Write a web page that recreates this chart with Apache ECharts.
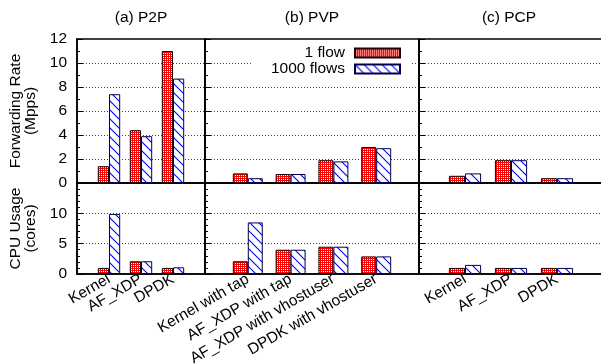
<!DOCTYPE html>
<html>
<head>
<meta charset="utf-8">
<script src="https://cdn.jsdelivr.net/npm/echarts@6/dist/echarts.min.js"></script>
<style>
    html, body { margin: 0; padding: 0; background: #fff; }
    #main { width: 601px; height: 364px; }
</style>
</head>
<body>
<div id="main"></div>
<script>
// categories
var p2pCats = ['Kernel', 'AF_XDP', 'DPDK'];
var pvpCats = ['Kernel with tap', 'AF_XDP with tap', 'AF_XDP with vhostuser', 'DPDK with vhostuser'];
var pcpCats = ['Kernel', 'AF_XDP', 'DPDK'];
var panelTitles = ['(a) P2P', '(b) PVP', '(c) PCP'];
var seriesNames = ['1 flow', '1000 flows'];

// forwarding rate (Mpps)
var rateP2p1 = [1.4, 4.4, 11.0];
var rateP2p1000 = [7.4, 3.9, 8.7];
var ratePvp1 = [0.8, 0.75, 1.9, 3.0];
var ratePvp1000 = [0.4, 0.75, 1.8, 2.9];
var ratePcp1 = [0.6, 1.9, 0.4];
var ratePcp1000 = [0.8, 1.9, 0.4];

// cpu usage (cores)
var cpuP2p1 = [1.0, 2.1, 1.0];
var cpuP2p1000 = [9.9, 2.1, 1.1];
var cpuPvp1 = [2.1, 4.0, 4.5, 2.9];
var cpuPvp1000 = [8.5, 4.0, 4.5, 2.9];
var cpuPcp1 = [1.0, 1.0, 1.0];
var cpuPcp1000 = [1.5, 1.0, 1.0];

var FONT = '"Liberation Sans", Arial, Helvetica, sans-serif';
var FS = 15.5;

// red cross-hatch pattern
function redPattern() {
    var c = document.createElement('canvas');
    c.width = 4; c.height = 4;
    var ctx = c.getContext('2d');
    ctx.fillStyle = '#ff0000';
    ctx.fillRect(0, 0, 4, 4);
    ctx.fillStyle = '#ffffff';
    ctx.fillRect(1, 1, 1, 1);
    ctx.fillRect(3, 3, 1, 1);
    ctx.fillRect(3, 1, 1, 1);
    ctx.fillRect(1, 3, 1, 1);
    return c;
}
// blue diagonal lines
function bluePattern() {
    var c = document.createElement('canvas');
    c.width = 9; c.height = 9;
    var ctx = c.getContext('2d');
    ctx.fillStyle = '#ffffff';
    ctx.fillRect(0, 0, 9, 9);
    ctx.strokeStyle = '#0000ff';
    ctx.lineWidth = 1.1;
    ctx.beginPath();
    ctx.moveTo(-2, -2); ctx.lineTo(11, 11);
    ctx.moveTo(-2, 7); ctx.lineTo(2, 11);
    ctx.moveTo(7, -2); ctx.lineTo(11, 2);
    ctx.stroke();
    return c;
}

function pad(arr) {
    return ['-'].concat(arr).concat(['-']);
}

var cols = [
    {left: 77, width: 128, cats: p2pCats, rate: [rateP2p1, rateP2p1000], cpu: [cpuP2p1, cpuP2p1000]},
    {left: 205, width: 214, cats: pvpCats, rate: [ratePvp1, ratePvp1000], cpu: [cpuPvp1, cpuPvp1000]},
    {left: 419, width: 184, cats: pcpCats, rate: [ratePcp1, ratePcp1000], cpu: [cpuPcp1, cpuPcp1000]}
];
var rows = [
    {top: 39, height: 144, max: 12, interval: 2, minor: 2, name: 'Forwarding Rate\n(Mpps)', key: 'rate'},
    {top: 183, height: 91, max: 15, interval: 5, minor: 5, name: 'CPU Usage\n(cores)', key: 'cpu'}
];

var redFill = {image: redPattern(), repeat: 'repeat'};
var blueFill = {image: bluePattern(), repeat: 'repeat'};

var grids = [], xAxes = [], yAxes = [], series = [], titles = [];

cols.forEach(function (col, ci) {
    titles.push({
        text: panelTitles[ci],
        left: col.left + col.width / 2 - (ci == 2 ? 2 : 0),
        textAlign: 'center',
        top: 10,
        padding: 0,
        textStyle: {fontFamily: FONT, fontSize: FS, fontWeight: 'normal', color: '#000'}
    });
    rows.forEach(function (row, ri) {
        var gi = grids.length;
        grids.push({
            left: col.left, width: col.width, top: row.top, height: row.height,
            show: true, borderColor: '#000', borderWidth: 1.5, backgroundColor: 'transparent',
            containLabel: false, outerBoundsMode: 'none'
        });
        xAxes.push({
            type: 'category', gridIndex: gi, boundaryGap: false,
            data: [''].concat(col.cats).concat(['']),
            axisLine: {show: true, lineStyle: {color: '#000', width: 1.5}},
            axisTick: {show: false},
            splitLine: {show: false},
            axisLabel: {
                show: ri == 1, interval: 0, rotate: 30, margin: 4,
                fontFamily: FONT, fontSize: FS, color: '#000'
            }
        });
        yAxes.push({
            type: 'value', gridIndex: gi, min: 0, max: row.max, interval: row.interval,
            name: ci == 0 ? row.name : '',
            nameLocation: 'middle', nameGap: 39,
            nameTextStyle: {fontFamily: FONT, fontSize: FS, color: '#000', lineHeight: 15},
            axisLine: {show: true, lineStyle: {color: '#000', width: 1.5}},
            axisTick: {show: true, inside: true, length: 6, lineStyle: {color: '#000', width: 1}},
            minorTick: {show: true, splitNumber: row.minor, length: 3, lineStyle: {color: '#000', width: 1}},
            splitLine: {show: true, lineStyle: {color: '#444', width: 1, type: [1, 2]}},
            axisLabel: {
                show: ci == 0, margin: 10, showMaxLabel: ri == 0,
                fontFamily: FONT, fontSize: FS, color: '#000'
            }
        });
        var vals = col[row.key];
        series.push({
            name: seriesNames[0], type: 'bar', xAxisIndex: gi, yAxisIndex: gi,
            data: pad(vals[0]), barWidth: '35%', barGap: '0%',
            itemStyle: {color: redFill, borderColor: '#200000', borderWidth: 1},
            animation: false
        });
        series.push({
            name: seriesNames[1], type: 'bar', xAxisIndex: gi, yAxisIndex: gi,
            data: pad(vals[1]), barWidth: '35%', barGap: '0%',
            itemStyle: {color: blueFill, borderColor: '#000050', borderWidth: 1},
            animation: false
        });
    });
});

var option = {
    backgroundColor: '#fff',
    animation: false,
    title: titles,
    legend: {
        data: seriesNames,
        orient: 'vertical',
        align: 'right',
        right: 191,
        top: 41,
        padding: [4, 9, 4, 20],
        itemWidth: 45,
        itemHeight: 9,
        itemGap: 0,
        backgroundColor: '#fff',
        icon: 'rect',
        selectedMode: false,
        textStyle: {fontFamily: FONT, fontSize: FS, color: '#000', lineHeight: 15, padding: [0, 5, 0, 0]}
    },
    grid: grids,
    xAxis: xAxes,
    yAxis: yAxes,
    series: series
};

var myChart = echarts.init(document.getElementById('main'));
myChart.setOption(option);
</script>
</body>
</html>
